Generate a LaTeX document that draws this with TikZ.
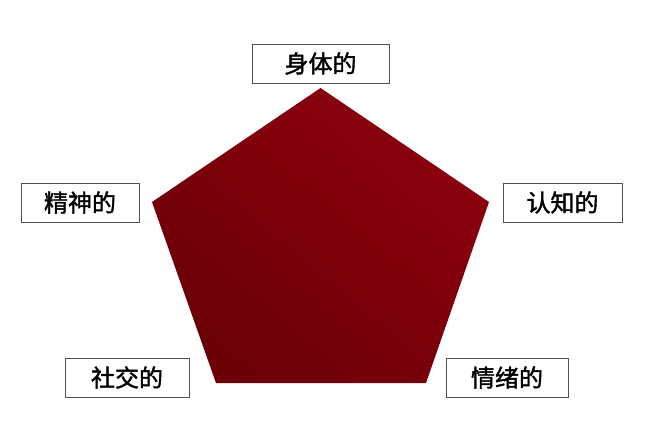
\documentclass[tikz,border=0pt]{standalone}
\usepackage{fontspec}
\usepackage{tikz}
\newfontfamily\cjk[FakeBold=1.6]{Noto Sans CJK SC}
\definecolor{penta light}{RGB}{140,0,14}
\definecolor{penta dark}{RGB}{108,0,7}
\definecolor{box line}{RGB}{80,80,80}

\begin{document}
\begin{tikzpicture}[x=1pt,y=-1pt,
        facet/.style={draw=box line,line width=1pt,fill=white,minimum height=39pt,inner sep=0pt,font=\cjk\fontsize{24}{26}\selectfont}]
        \useasboundingbox (0,0) rectangle (645,431);

        \coordinate (top) at (320.5,88);
        \coordinate (right) at (489,202);
        \coordinate (lowright) at (426,383);
        \coordinate (lowleft) at (216,383);
        \coordinate (left) at (152,202);
        \shade[top color=penta light,bottom color=penta dark,shading angle=-40]
            (top) -- (right) -- (lowright) -- (lowleft) -- (left) -- cycle;

        \node[facet,minimum width=137pt] (body) at (320.5,63.5) {身体的};
        \node[facet,minimum width=118pt] (spirit) at (80,202.5) {精神的};
        \node[facet,minimum width=119pt] (mind) at (562.5,202.5) {认知的};
        \node[facet,minimum width=124pt] (social) at (127,377.5) {社交的};
        \node[facet,minimum width=122pt] (emotion) at (507,377.5) {情绪的};
    \end{tikzpicture}
\end{document}
